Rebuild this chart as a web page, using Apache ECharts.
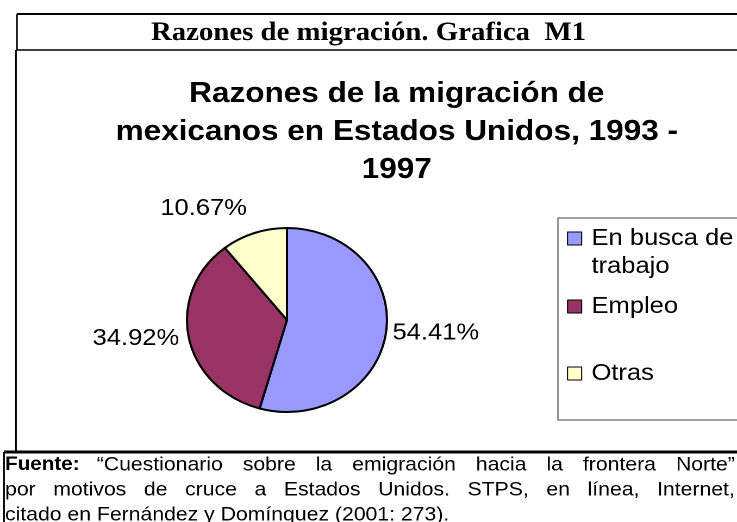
<!DOCTYPE html>
<html>
<head>
<meta charset="utf-8">
<script src="https://cdn.jsdelivr.net/npm/echarts@6/dist/echarts.min.js"></script>
<style>
  html, body { margin: 0; padding: 0; background: #fff; overflow: hidden; }
  /* the scanned page is slightly stretched sideways, so is the chart */
  #main { width: 678px; height: 522px; transform: scaleX(1.087); transform-origin: 0 0; }
</style>
</head>
<body>
<div id="main"></div>
<script>
// data
var categories = ['En busca de trabajo', 'Empleo', 'Otras'];
var values = [54.41, 34.92, 10.67];
var legendText = ['En busca de\ntrabajo', 'Empleo', 'Otras'];
var colors = ['#9999ff', '#993366', '#ffffcc'];

var pageTitle = ['Razones de migración', '. Grafica  ', 'M1'];
var chartTitle = 'Razones de la migración de\nmexicanos en Estados Unidos, 1993 -\n1997';
var footHead = 'Fuente:';
var footLines = [
  '“Cuestionario sobre la emigración hacia la frontera Norte”',
  'por motivos de cruce a Estados Unidos. STPS, en línea, Internet,',
  'citado en Fernández y Domínguez (2001: 273).'
];

var SANS = '"Liberation Sans", Arial, Helvetica, sans-serif';
var SERIF = '"Liberation Serif", "Times New Roman", serif';
var labelLineLen = [1, 4, 26];
var labelLineLen2 = [0, 0, -7];

// justified footnote words (like the scanned paragraph)
var ctx = document.createElement('canvas').getContext('2d');
function footWords(line, x0, x1, y, justify) {
  ctx.font = '19.5px ' + SANS;
  var words = line.split(' ');
  var widths = words.map(function (w) { return ctx.measureText(w).width; });
  var total = widths.reduce(function (a, b) { return a + b; }, 0);
  var gap = justify ? (x1 - x0 - total) / (words.length - 1) : ctx.measureText(' ').width;
  var x = x0;
  return words.map(function (w, i) {
    var el = {
      type: 'text', x: x, y: y,
      style: { text: w, fontSize: 19.5, fontFamily: SANS, fill: '#000', verticalAlign: 'middle' }
    };
    x += widths[i] + gap;
    return el;
  });
}

function frame(x1, y1, x2, y2, w) {
  return { type: 'line', shape: { x1: x1, y1: y1, x2: x2, y2: y2 }, style: { stroke: '#000', lineWidth: w } };
}

var graphics = [
  frame(15.6, 14, 680, 14, 2),
  frame(15.6, 14, 15.6, 50, 1.5),
  frame(14.7, 50, 680, 50, 1.5),
  frame(14.7, 50, 14.7, 452, 1.5),
  frame(3.7, 452, 680, 452, 3),
  frame(3.7, 452, 3.7, 530, 1.5),
  { type: 'rect', shape: { x: 513.3, y: 218, width: 180, height: 202 },
    style: { fill: 'none', stroke: '#444', lineWidth: 1 } },
  { type: 'text', x: 4.6, y: 465,
    style: { text: footHead, fontSize: 19, fontWeight: 'bold', fontFamily: SANS, fill: '#000', verticalAlign: 'middle' } }
];
graphics = graphics
  .concat(footWords(footLines[0], 89, 676, 465, true))
  .concat(footWords(footLines[1], 4.6, 676, 490, true))
  .concat(footWords(footLines[2], 4.6, 676, 515, false));

var chart = echarts.init(document.getElementById('main'), null, { renderer: 'canvas', devicePixelRatio: 2 });

function legendFor(i, top) {
  return {
    left: 521.6,
    top: top,
    padding: 0,
    orient: 'vertical',
    selectedMode: false,
    itemWidth: 13,
    itemHeight: 13,
    icon: 'rect',
    itemStyle: { borderColor: '#000', borderWidth: 1 },
    data: [categories[i]],
    // two-line item: blank first line keeps the marker beside the first text line
    formatter: function () { return legendText[i].indexOf('\n') >= 0 ? ' \n' + legendText[i] : legendText[i]; },
    textStyle: { fontSize: 23.5, lineHeight: 28, fontFamily: SANS, color: '#000', padding: [0, 0, 0, 4] }
  };
}

var option = {
  animation: false,
  backgroundColor: '#fff',
  title: [{
    text: chartTitle,
    left: 360,
    textAlign: 'center',
    top: 70,
    textStyle: { fontSize: 29, fontWeight: 'bold', lineHeight: 38, fontFamily: SANS, color: '#000' }
  }, {
    text: '{b|' + pageTitle[0] + '}{r|' + pageTitle[1] + '}{b|' + pageTitle[2] + '}',
    left: 'center',
    top: 18,
    padding: [0, 0, 0, 12],
    textStyle: {
      rich: {
        b: { fontSize: 26.5, fontWeight: 'bold', fontFamily: SERIF, color: '#000', lineHeight: 30 },
        r: { fontSize: 26.5, fontFamily: SERIF, color: '#000', lineHeight: 30 }
      }
    }
  }],
  legend: [
    legendFor(0, 196.5),
    legendFor(1, 292.5),
    legendFor(2, 359.5)
  ],
  graphic: { elements: graphics },
  series: [{
    type: 'pie',
    center: [264, 320],
    radius: 92,
    startAngle: 90,
    clockwise: true,
    avoidLabelOverlap: false,
    itemStyle: { borderColor: '#000', borderWidth: 2 },
    label: {
      show: true,
      position: 'outside',
      fontSize: 23.5,
      fontFamily: SANS,
      color: '#000',
      formatter: function (p) { return p.value.toFixed(2) + '%'; }
    },
    labelLine: { show: false, length: 1, length2: 0 },
    emphasis: { disabled: true },
    data: categories.map(function (name, i) {
      return {
        name: name,
        value: values[i],
        itemStyle: { color: colors[i] },
        labelLine: { show: false, length: labelLineLen[i], length2: labelLineLen2[i] }
      };
    })
  }]
};

chart.setOption(option);
</script>
</body>
</html>
